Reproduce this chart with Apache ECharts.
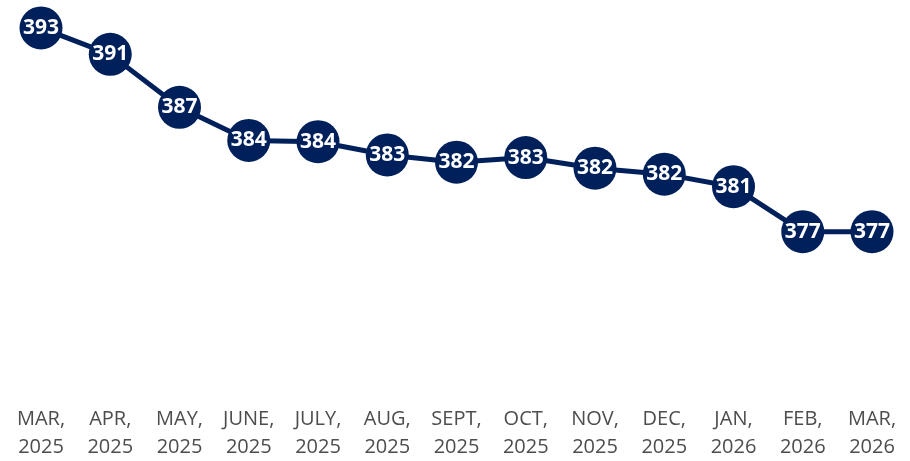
<!DOCTYPE html>
<html>
<head>
<meta charset="utf-8">
<script src="https://cdn.jsdelivr.net/npm/echarts@6/dist/echarts.min.js"></script>
<style>
  html, body { margin: 0; padding: 0; background: #fff; }
  #chart { width: 910px; height: 461px; }
</style>
</head>
<body>
<div id="chart"></div>
<script>
// month labels (two lines, as in the picture)
var months = ["MAR,", "APR,", "MAY,", "JUNE,", "JULY,", "AUG,", "SEPT,", "OCT,", "NOV,", "DEC,", "JAN,", "FEB,", "MAR,"];
var years = ["2025", "2025", "2025", "2025", "2025", "2025", "2025", "2025", "2025", "2025", "2026", "2026", "2026"];
// values (labels show them rounded)
var values = [392.6, 390.6, 386.6, 384.1, 384.0, 383.0, 382.45, 382.8, 382.0, 381.55, 380.6, 377.2, 377.2];

var categories = months.map(function (m, i) { return m + "\n" + years[i]; });

var chart = echarts.init(document.getElementById("chart"));
chart.setOption({
  animation: false,
  grid: {
    left: 6.375,
    right: 3.375,
    top: 9.364,
    height: 319.48
  },
  xAxis: {
    type: "category",
    data: categories,
    boundaryGap: true,
    axisLine: { show: false },
    axisTick: { show: false },
    axisLabel: {
      margin: 78,
      color: "#4d4d4d",
      fontFamily: "Open Sans",
      fontSize: 20,
      lineHeight: 28,
      interval: 0
    }
  },
  yAxis: {
    type: "value",
    show: false,
    min: 370,
    max: 394,
    splitLine: { show: false }
  },
  series: [
    {
      type: "line",
      data: values,
      symbol: "circle",
      symbolSize: 43,
      lineStyle: { color: "#00205b", width: 5 },
      itemStyle: { color: "#00205b" },
      label: {
        show: true,
        position: "inside",
        color: "#ffffff",
        fontFamily: "Open Sans",
        fontWeight: "bold",
        fontSize: 21,
        formatter: function (p) { return Math.round(p.value); }
      }
    }
  ]
});
</script>
</body>
</html>
